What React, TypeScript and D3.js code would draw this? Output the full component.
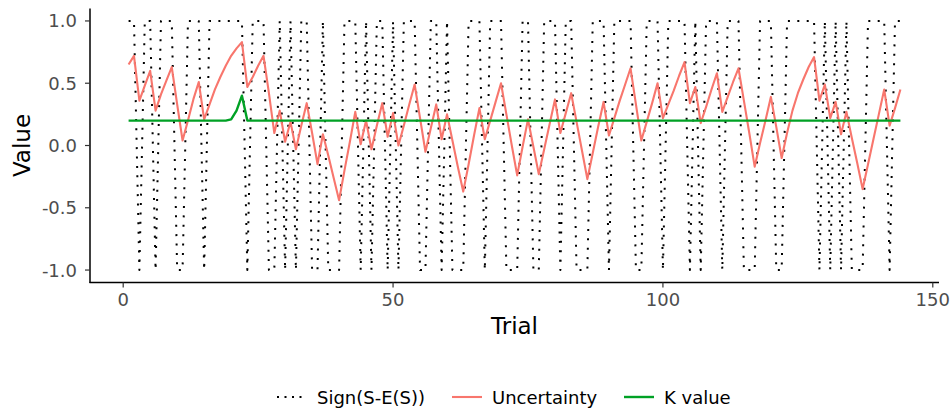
import React from "react"
import * as d3 from "d3"

// trial index 1..144
const trials = d3.range(1, 145)

// Sign(S-E(S)) per trial
const signValues = [
  1, 1, -1, 1, 1, -1, 1, 1, 1, -1, -1, 1,
  1, 1, -1, 1, 1, 1, 1, 1, 1, 1, -1, 1,
  1, 1, -1, -1, 1, -1, 1, -1, 1, 1, -1, -1,
  1, -1, -1, -1, 1, 1, 1, -1, 1, -1, 1, 1,
  -1, 1, -1, 1, 1, 1, -1, -1, 1, 1, -1, 1,
  -1, -1, -1, 1, 1, 1, -1, 1, 1, 1, -1, -1,
  -1, 1, 1, -1, -1, 1, 1, 1, -1, 1, 1, -1,
  -1, -1, 1, 1, 1, -1, 1, 1, 1, 1, -1, -1,
  1, 1, 1, -1, 1, 1, 1, 1, -1, 1, -1, 1,
  1, 1, -1, 1, 1, 1, -1, -1, -1, 1, 1, 1,
  -1, -1, 1, 1, 1, 1, 1, 1, -1, 1, -1, 1,
  -1, 1, -1, -1, -1, 1, 1, 1, 1, -1, 1, 1
]

const uncertainty = [
  0.65, 0.72, 0.36, 0.48, 0.60, 0.28, 0.41, 0.52, 0.63, 0.33, 0.04, 0.20,
  0.37, 0.51, 0.21, 0.33, 0.45, 0.55, 0.64, 0.72, 0.78, 0.83, 0.47, 0.55,
  0.64, 0.72, 0.42, 0.10, 0.28, 0.03, 0.19, -0.03, 0.16, 0.34, 0.10, -0.15,
  0.09, -0.08, -0.26, -0.44, -0.20, 0.03, 0.27, 0.01, 0.20, -0.03, 0.16, 0.34,
  0.07, 0.26, 0.00, 0.16, 0.33, 0.49, 0.22, -0.05, 0.14, 0.33, 0.05, 0.25,
  0.04, -0.17, -0.37, -0.15, 0.08, 0.30, 0.05, 0.20, 0.35, 0.50, 0.25, 0.00,
  -0.24, -0.01, 0.21, -0.01, -0.23, -0.03, 0.17, 0.37, 0.10, 0.26, 0.42, 0.19,
  -0.04, -0.27, -0.06, 0.15, 0.35, 0.08, 0.22, 0.36, 0.49, 0.62, 0.33, 0.04,
  0.19, 0.34, 0.50, 0.22, 0.33, 0.44, 0.56, 0.67, 0.34, 0.47, 0.18, 0.31,
  0.45, 0.58, 0.27, 0.39, 0.51, 0.62, 0.36, 0.10, -0.17, 0.02, 0.20, 0.39,
  0.15, -0.10, 0.10, 0.28, 0.42, 0.53, 0.63, 0.71, 0.36, 0.49, 0.22, 0.35,
  0.09, 0.27, 0.06, -0.14, -0.35, -0.15, 0.05, 0.25, 0.45, 0.16, 0.30, 0.45
]

const kValue = [
  0.2, 0.2, 0.2, 0.2, 0.2, 0.2, 0.2, 0.2, 0.2, 0.2, 0.2, 0.2,
  0.2, 0.2, 0.2, 0.2, 0.2, 0.2, 0.2, 0.21, 0.28, 0.40, 0.2, 0.2,
  0.2, 0.2, 0.2, 0.2, 0.2, 0.2, 0.2, 0.2, 0.2, 0.2, 0.2, 0.2,
  0.2, 0.2, 0.2, 0.2, 0.2, 0.2, 0.2, 0.2, 0.2, 0.2, 0.2, 0.2,
  0.2, 0.2, 0.2, 0.2, 0.2, 0.2, 0.2, 0.2, 0.2, 0.2, 0.2, 0.2,
  0.2, 0.2, 0.2, 0.2, 0.2, 0.2, 0.2, 0.2, 0.2, 0.2, 0.2, 0.2,
  0.2, 0.2, 0.2, 0.2, 0.2, 0.2, 0.2, 0.2, 0.2, 0.2, 0.2, 0.2,
  0.2, 0.2, 0.2, 0.2, 0.2, 0.2, 0.2, 0.2, 0.2, 0.2, 0.2, 0.2,
  0.2, 0.2, 0.2, 0.2, 0.2, 0.2, 0.2, 0.2, 0.2, 0.2, 0.2, 0.2,
  0.2, 0.2, 0.2, 0.2, 0.2, 0.2, 0.2, 0.2, 0.2, 0.2, 0.2, 0.2,
  0.2, 0.2, 0.2, 0.2, 0.2, 0.2, 0.2, 0.2, 0.2, 0.2, 0.2, 0.2,
  0.2, 0.2, 0.2, 0.2, 0.2, 0.2, 0.2, 0.2, 0.2, 0.2, 0.2, 0.2
]

const xTicks = [0, 50, 100, 150]
const yTicks = [-1, -0.5, 0, 0.5, 1]

const series = [
  { name: "Sign(S-E(S))", values: signValues, color: "#000000", width: 2, dash: "2 7.4" },
  { name: "Uncertainty", values: uncertainty, color: "#F8766D", width: 2.1, dash: null },
  { name: "K value", values: kValue, color: "#00A125", width: 2.4, dash: null }
]

const font = "'DejaVu Sans', sans-serif"

export default function App() {
  const width = 952
  const height = 410
  const x = d3.scaleLinear().domain([-6.15, 151.15]).range([90, 939])
  const y = d3.scaleLinear().domain([-1.1, 1.1]).range([282.5, 8.5])

  const line = d3
    .line<number>()
    .x((_, i) => x(trials[i]))
    .y(d => y(d))

  // legend: key 30px, 10px to label, equal gap between items
  const legendY = 397
  const labelW = [108, 105, 66]
  const legendItems: { keyX: number; textX: number }[] = []
  let cursor = 277
  labelW.forEach(w => {
    legendItems.push({ keyX: cursor, textX: cursor + 40 })
    cursor += 40 + w + 27
  })

  return (
    <svg
      width={width}
      height={height}
      style={{ position: "absolute", left: 0, top: 0, background: "#fff" }}
      fontFamily={font}
    >
      <g className="lines">
        {series.map(s => (
          <path
            key={s.name}
            d={line(s.values) || ""}
            fill="none"
            stroke={s.color}
            strokeWidth={s.width}
            strokeDasharray={s.dash || undefined}
            strokeLinejoin="round"
          />
        ))}
      </g>

      {/* axes (theme_classic) */}
      <line x1={90} x2={90} y1={8.5} y2={283} stroke="#000" strokeWidth={1.5} />
      <line x1={89.5} x2={939} y1={282.5} y2={282.5} stroke="#000" strokeWidth={1.5} />

      {yTicks.map(t => (
        <g key={"y" + t}>
          <line x1={85} x2={90} y1={y(t)} y2={y(t)} stroke="#333" strokeWidth={1.2} />
          <text x={77} y={y(t) + 6.5} textAnchor="end" fontSize={18} fill="#4D4D4D">
            {t.toFixed(1)}
          </text>
        </g>
      ))}
      {xTicks.map(t => (
        <g key={"x" + t}>
          <line x1={x(t)} x2={x(t)} y1={282.5} y2={287.5} stroke="#333" strokeWidth={1.2} />
          <text x={x(t)} y={306} textAnchor="middle" fontSize={18} fill="#4D4D4D">
            {t}
          </text>
        </g>
      ))}

      <text x={(90 + 939) / 2} y={334} textAnchor="middle" fontSize={23} fill="#000">
        Trial
      </text>
      <text
        transform={`translate(30, ${(8.5 + 282.5) / 2}) rotate(-90)`}
        textAnchor="middle"
        fontSize={23}
        fill="#000"
      >
        Value
      </text>

      {/* legend */}
      {series.map((s, i) => (
        <g key={"leg" + s.name}>
          <line
            x1={legendItems[i].keyX}
            x2={legendItems[i].keyX + 30}
            y1={legendY}
            y2={legendY}
            stroke={s.color}
            strokeWidth={s.width}
            strokeDasharray={s.dash ? "2 5.5" : undefined}
          />
          <text x={legendItems[i].textX} y={legendY + 6.5} fontSize={18} fill="#000">
            {s.name}
          </text>
        </g>
      ))}
    </svg>
  )
}
